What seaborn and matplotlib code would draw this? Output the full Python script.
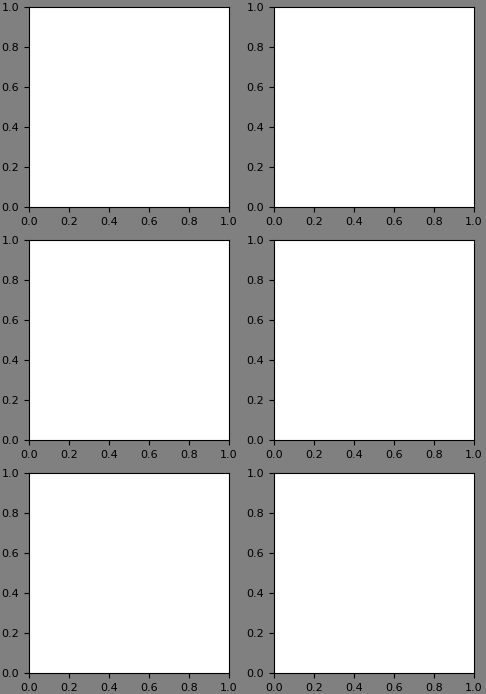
import numpy as np
import matplotlib
matplotlib.use('Agg')
import matplotlib.pyplot as plt
import seaborn as sns

n_rows = 2
n_cols = 3
x_ticks = [0.0, 0.2, 0.4, 0.6, 0.8, 1.0]
y_ticks = [0.0, 0.2, 0.4, 0.6, 0.8, 1.0]

sns.set_style('ticks')
plt.rcParams['font.family'] = ['DejaVu Sans']

fig, axes = plt.subplots(n_cols, n_rows, figsize=(4.86, 6.94), dpi=100)
fig.patch.set_facecolor('gray')
fig.subplots_adjust(left=29 / 486, right=474 / 486, top=1 - 7 / 694, bottom=1 - 673 / 694,
                    wspace=0.225, hspace=0.165)

for ax in axes.flat:
    ax.set_facecolor('white')
    ax.set_xlim(0, 1)
    ax.set_ylim(0, 1)
    ax.set_xticks(x_ticks)
    ax.set_yticks(y_ticks)
    for s in ax.spines.values():
        s.set_visible(True)
        s.set_color('black')
        s.set_linewidth(0.8)
    ax.tick_params(colors='black', labelsize=8, length=3.5, width=0.8)

plt.savefig('out.png', dpi=100, facecolor=fig.get_facecolor())
